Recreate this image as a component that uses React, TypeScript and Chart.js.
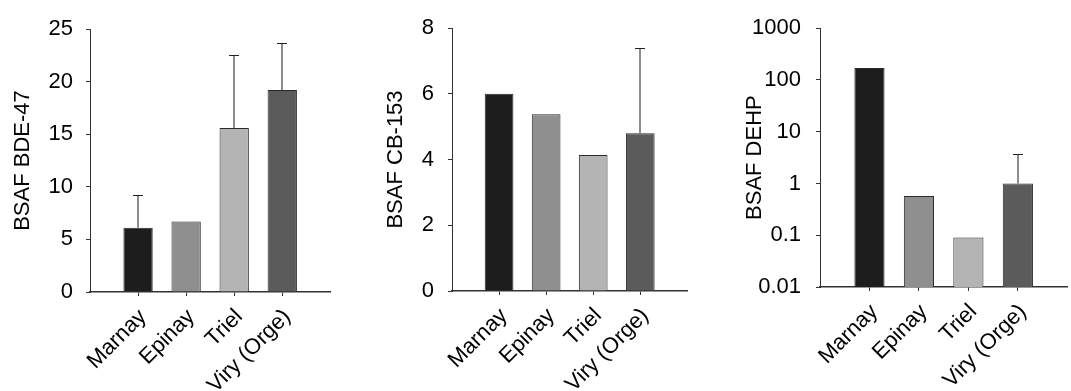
import React, { useEffect, useRef } from "react";
import { Chart, registerables } from "chart.js";

Chart.register(...registerables);

const categories = ["", "Marnay", "Epinay", "Triel", "Viry (Orge)", ""];
const barColors = ["#1d1d1d", "#8f8f8f", "#b4b4b4", "#5b5b5b"];

const bdeValues = [6.1, 6.7, 15.6, 19.2];
const bdeErrors = [3.1, 0, 6.9, 4.5];
const cbValues = [6.0, 5.38, 4.14, 4.8];
const cbErrors = [0, 0, 0, 2.6];
const dehpValues = [170, 0.57, 0.09, 1.0];
const dehpErrors = [0, 0, 0, 2.65];

const bdeTicks = [0, 5, 10, 15, 20, 25];
const cbTicks = [0, 2, 4, 6, 8];
const dehpTicks = [0.01, 0.1, 1, 10, 100, 1000];
const dehpTickLabels = ["0.01", "0.1", "1", "10", "100", "1000"];

const FONT = "'Liberation Sans', Arial, Helvetica, sans-serif";
const AXIS = "#333333";

const errorBarPlugin = {
  id: "errbars",
  afterDatasetsDraw(chart: any, _args: any, opts: any) {
    const errs: number[] = opts.errors || [];
    const meta = chart.getDatasetMeta(0);
    const yScale = chart.scales.y;
    const data = chart.data.datasets[0].data;
    const ctx = chart.ctx;
    ctx.save();
    meta.data.forEach((bar: any, i: number) => {
      const v = data[i];
      const e = errs[i];
      if (v == null || !e) return;
      const yTop = Math.round(yScale.getPixelForValue(v + e)) + 0.5;
      const x = Math.round(bar.x);
      ctx.strokeStyle = "#666666";
      ctx.lineWidth = 1.5;
      ctx.beginPath();
      ctx.moveTo(x, bar.y);
      ctx.lineTo(x, yTop);
      ctx.stroke();
      ctx.strokeStyle = "#222222";
      ctx.lineWidth = 1;
      ctx.beginPath();
      ctx.moveTo(x - 5, yTop);
      ctx.lineTo(x + 5, yTop);
      ctx.stroke();
    });
    ctx.restore();
  },
};

type PanelProps = {
  left: number;
  width: number;
  yWidth: number;
  top: number;
  xHeight: number;
  padRight: number;
  title: string;
  titlePad: number;
  tickPad: number;
  values: number[];
  errors: number[];
  log?: boolean;
  ticks: number[];
  tickLabels?: string[];
  min: number;
  max: number;
};

function Panel(p: PanelProps) {
  const ref = useRef<HTMLCanvasElement | null>(null);
  useEffect(() => {
    if (!ref.current) return;
    const data = [null, ...p.values, null];
    const errs = [0, ...p.errors, 0];
    const colors = ["#000", ...barColors, "#000"];
    const chart = new Chart(ref.current, {
      type: "bar",
      data: {
        labels: categories,
        datasets: [
          {
            data: data as any,
            backgroundColor: colors,
            borderColor: "#2a2a2a",
            borderWidth: 1,
            categoryPercentage: 1,
            barPercentage: 0.61,
          },
        ],
      },
      plugins: [errorBarPlugin],
      options: {
        animation: false,
        responsive: false,
        devicePixelRatio: 1,
        layout: { padding: { top: p.top, right: p.padRight, left: 0, bottom: 0 } },
        plugins: {
          legend: { display: false },
          tooltip: { enabled: false },
          errbars: { errors: errs },
        } as any,
        scales: {
          x: {
            type: "category",
            offset: false,
            afterFit: (s: any) => {
              s.height = p.xHeight;
            },
            grid: {
              display: true,
              offset: false,
              drawOnChartArea: false,
              drawTicks: true,
              tickLength: 4,
              color: (c: any) =>
                c.index === 0 || c.index === categories.length - 1 ? "rgba(0,0,0,0)" : AXIS,
            },
            border: { display: true, color: AXIS, width: 1.5 },
            ticks: {
              autoSkip: false,
              maxRotation: 45,
              minRotation: 45,
              padding: 8,
              labelOffset: 5,
              color: "#000",
              font: { family: FONT, size: 22 },
            },
          },
          y: {
            type: p.log ? "logarithmic" : "linear",
            min: p.min,
            max: p.max,
            afterFit: (s: any) => {
              s.width = p.yWidth;
            },
            afterBuildTicks: (s: any) => {
              s.ticks = p.ticks.map((v) => ({ value: v }));
            },
            grid: {
              display: true,
              drawOnChartArea: false,
              drawTicks: true,
              tickLength: 4,
              color: AXIS,
            },
            border: { display: true, color: AXIS, width: 1 },
            ticks: {
              padding: p.tickPad,
              color: "#000",
              font: { family: FONT, size: 22 },
              callback: (v: any) => {
                const i = p.ticks.indexOf(Number(v));
                if (p.tickLabels && i >= 0) return p.tickLabels[i];
                return String(v);
              },
            },
            title: {
              display: true,
              text: p.title,
              color: "#000",
              padding: { top: p.titlePad, bottom: 0 },
              font: { family: FONT, size: 22 },
            },
          },
        },
      } as any,
    });
    return () => chart.destroy();
  }, []);
  return (
    <canvas
      ref={ref}
      width={p.width}
      height={391}
      style={{ position: "absolute", left: p.left, top: 0, width: p.width, height: 391 }}
    />
  );
}

export default function App() {
  return (
    <div
      style={{
        position: "absolute",
        left: 0,
        top: 0,
        width: 1071,
        height: 391,
        overflow: "hidden",
        background: "#fff",
      }}
    >
      <Panel
        left={0}
        width={357}
        yWidth={90}
        top={29}
        xHeight={99}
        padRight={5}
        title="BSAF BDE-47"
        titlePad={10}
        tickPad={13}
        values={bdeValues}
        errors={bdeErrors}
        ticks={bdeTicks}
        min={0}
        max={25}
      />
      <Panel
        left={357}
        width={357}
        yWidth={95}
        top={28}
        xHeight={100}
        padRight={1}
        title="BSAF CB-153"
        titlePad={26}
        tickPad={14}
        values={cbValues}
        errors={cbErrors}
        ticks={cbTicks}
        min={0}
        max={8}
      />
      <Panel
        left={714}
        width={380}
        yWidth={106}
        top={24}
        xHeight={104}
        padRight={12}
        title="BSAF DEHP"
        titlePad={28}
        tickPad={15}
        values={dehpValues}
        errors={dehpErrors}
        log
        ticks={dehpTicks}
        tickLabels={dehpTickLabels}
        min={0.01}
        max={1000}
      />
    </div>
  );
}
